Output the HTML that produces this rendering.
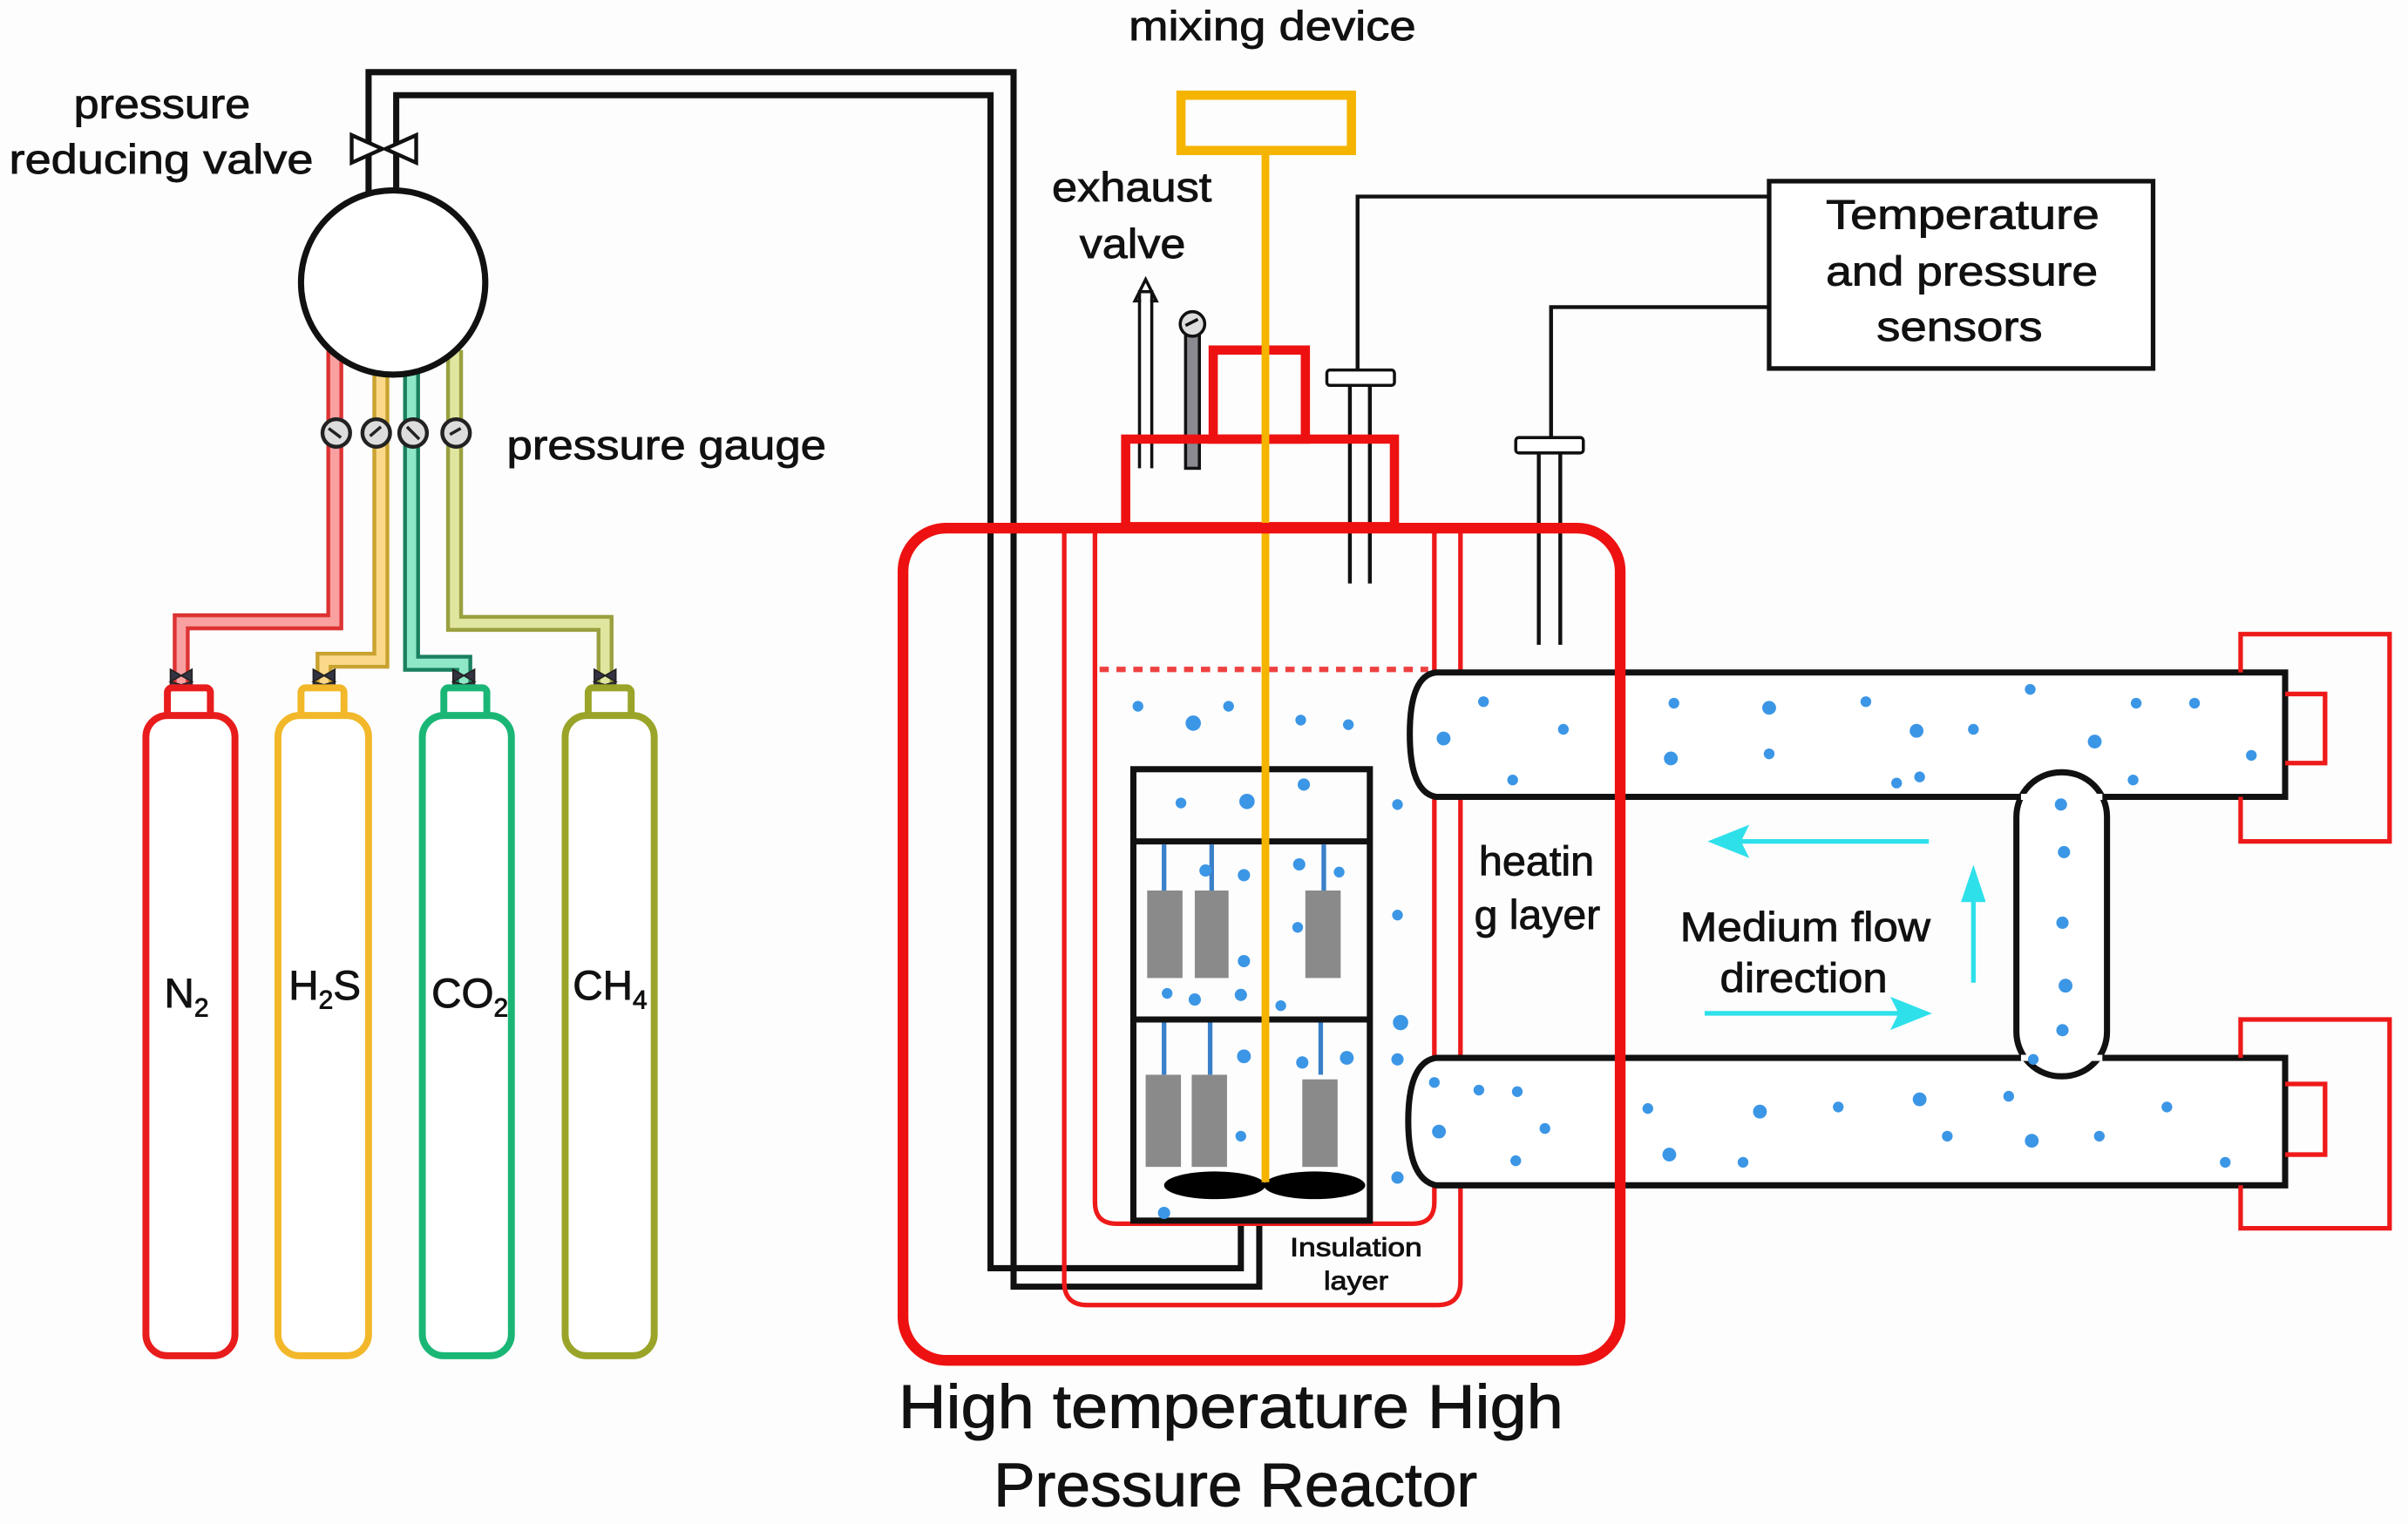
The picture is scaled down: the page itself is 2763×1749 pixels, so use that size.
<!DOCTYPE html>
<html><head><meta charset="utf-8"><style>
html,body{margin:0;padding:0;background:#fdfdfd;}
svg{display:block;}
text{font-family:"Liberation Sans",sans-serif;fill:#111;stroke:#111;stroke-width:0.5;}
</style></head><body>
<svg width="2763" height="1749" viewBox="0 0 1568 992.6" preserveAspectRatio="none" xmlns="http://www.w3.org/2000/svg">
<rect width="1568" height="993" fill="#fdfdfd"/>

<!-- colored gas pipes -->
<g fill="none" stroke-linejoin="miter">
<path d="M218 228 V405 H118 V445" stroke="#d33" stroke-width="11"/>
<path d="M218 228 V405 H118 V445" stroke="#f9a0a0" stroke-width="6"/>
<path d="M248 238 V430 H211 V445" stroke="#c9a230" stroke-width="11"/>
<path d="M248 238 V430 H211 V445" stroke="#fbd98a" stroke-width="6"/>
<path d="M268 238 V432 H302 V445" stroke="#1a8060" stroke-width="11"/>
<path d="M268 238 V432 H302 V445" stroke="#8ee8c8" stroke-width="6"/>
<path d="M296 228 V406 H394 V445" stroke="#9aa040" stroke-width="11"/>
<path d="M296 228 V406 H394 V445" stroke="#e0e6a0" stroke-width="6"/>
</g>
<g stroke="#222" stroke-width="2.5" fill="#ddd">
<circle cx="219" cy="282" r="9"/><circle cx="245" cy="282" r="9"/><circle cx="269" cy="282" r="9"/><circle cx="297" cy="282" r="9"/>
</g>
<g stroke="#222" stroke-width="2"><path d="M214 279 L222 285 M241 284 L248 278 M265 278 L273 286 M293 283 L300 279"/></g>

<g fill="#334" stroke="#222" stroke-width="1">
<path d="M111 436 L125 444 L111 448Z M125 436 L111 444 L125 448Z"/>
<path d="M204 436 L218 444 L204 448Z M218 436 L204 444 L218 448Z"/>
<path d="M295 436 L309 444 L295 448Z M309 436 L295 444 L309 448Z"/>
<path d="M387 436 L401 444 L387 448Z M401 436 L387 444 L401 448Z"/>
</g>
<g fill="#fff" stroke-width="4.5">
<rect x="109" y="448" width="28" height="20" rx="3" stroke="#e81c1c"/>
<rect x="95" y="466" width="58" height="417" rx="14" stroke="#e81c1c"/>
<rect x="196" y="448" width="28" height="20" rx="3" stroke="#f2b82a"/>
<rect x="181" y="466" width="59" height="417" rx="14" stroke="#f2b82a"/>
<rect x="289" y="448" width="28" height="20" rx="3" stroke="#1ab676"/>
<rect x="275" y="466" width="58" height="417" rx="14" stroke="#1ab676"/>
<rect x="383" y="448" width="28" height="20" rx="3" stroke="#9aa428"/>
<rect x="368" y="466" width="58" height="417" rx="14" stroke="#9aa428"/>
</g>
<g font-size="27">
<text x="107" y="656">N<tspan font-size="17" dy="6">2</tspan></text>
<text x="188" y="651">H<tspan font-size="17" dy="6">2</tspan><tspan dy="-6">S</tspan></text>
<text x="281" y="656">CO<tspan font-size="17" dy="6">2</tspan></text>
<text x="373" y="651">CH<tspan font-size="17" dy="6">4</tspan></text>
</g>

<g fill="none" stroke="#111" stroke-width="4">
<path d="M240 130 V47 H660 V838 H820 V795"/>
<path d="M258 130 V62 H645 V826 H808 V795"/>
</g>
<path d="M229 88 L249 97 L229 106Z M271 88 L251 97 L271 106Z" fill="#fff" stroke="#111" stroke-width="2.5"/>
<circle cx="256" cy="184" r="60" fill="#fff" stroke="#111" stroke-width="4"/>

<g font-size="27">
<text x="48" y="77" textLength="115" lengthAdjust="spacingAndGlyphs">pressure</text>
<text x="6" y="113" textLength="198" lengthAdjust="spacingAndGlyphs">reducing valve</text>
<text x="330" y="299" textLength="208" lengthAdjust="spacingAndGlyphs">pressure gauge</text>
<text x="735" y="26" textLength="187" lengthAdjust="spacingAndGlyphs">mixing device</text>
<text x="685" y="131" textLength="104" lengthAdjust="spacingAndGlyphs">exhaust</text>
<text x="703" y="168" textLength="69" lengthAdjust="spacingAndGlyphs">valve</text>
</g>
<rect x="769" y="62" width="111" height="36" fill="none" stroke="#f5b400" stroke-width="6"/>

<g stroke="#111" stroke-width="2" fill="#fff">
<path d="M742 305 V195 M750 305 V195"/>
<path d="M739 196 L746 182 L753 196 L750 196 L750 190 L742 190 L742 196Z"/>
<rect x="772" y="215" width="9" height="90" fill="#8a8a90"/>
<circle cx="776.5" cy="211" r="8" fill="#ddd"/>
<path d="M772 212 L780 208"/>
</g>

<rect x="1152" y="118" width="250" height="122" fill="#fff" stroke="#111" stroke-width="3"/>
<g font-size="27">
<text x="1189" y="149" textLength="178" lengthAdjust="spacingAndGlyphs">Temperature</text>
<text x="1189" y="186" textLength="177" lengthAdjust="spacingAndGlyphs">and pressure</text>
<text x="1222" y="222" textLength="108" lengthAdjust="spacingAndGlyphs">sensors</text>
</g>
<g fill="none" stroke="#111" stroke-width="2.5">
<path d="M1152 128 H884 V242"/>
<path d="M1152 200 H1010 V285"/>
<path d="M879 251 V380 M892 251 V380"/>
<path d="M1002 295 V420 M1016 295 V420"/>
</g>
<rect x="864" y="241" width="44" height="10" rx="2" fill="#fff" stroke="#111" stroke-width="2"/>
<rect x="987" y="285" width="44" height="10" rx="2" fill="#fff" stroke="#111" stroke-width="2"/>

<g fill="none" stroke="#ee1111" stroke-width="6">
<rect x="790" y="228" width="60" height="58"/>
<rect x="733" y="286" width="175" height="57"/>
</g>

<g fill="none" stroke="#ee1a1a" stroke-width="3">
<path d="M693 345 V835 Q693 850 708 850 H936 Q951 850 951 835 V345"/>
<path d="M713 345 V783 Q713 797 727 797 H920 Q934 797 934 783 V345"/>
</g>
<line x1="716" y1="436" x2="930" y2="436" stroke="#ee4040" stroke-width="3.5" stroke-dasharray="6,5"/>

<g fill="#fff" stroke="#111" stroke-width="4">
<path d="M1488 438 H935 Q918 440 918 478 Q918 516 935 519 H1488Z"/>
<path d="M1488 689 H935 Q917 692 917 730 Q917 768 935 772 H1488Z"/>
<rect x="1313" y="503" width="59" height="198" rx="29"/>
</g>
<rect x="1316" y="517" width="53" height="4" fill="#fff"/>
<rect x="1316" y="687" width="53" height="4" fill="#fff"/>
<g fill="none" stroke="#ee1a1a" stroke-width="3">
<path d="M1459 438 V413 H1556 V548 H1459 V519"/>
<path d="M1488 452 H1514 V497 H1488"/>
<path d="M1459 689 V664 H1556 V800 H1459 V772"/>
<path d="M1488 706 H1514 V752 H1488"/>
</g>

<g fill="none" stroke="#111" stroke-width="4">
<rect x="738" y="501" width="154" height="294"/>
<line x1="738" y1="548" x2="892" y2="548"/>
<line x1="738" y1="664" x2="892" y2="664"/>
</g>
<g fill="#8a8a8a">
<rect x="747" y="580" width="23" height="57"/><rect x="778" y="580" width="22" height="57"/><rect x="850" y="580" width="23" height="57"/>
<rect x="746" y="700" width="23" height="60"/><rect x="776" y="700" width="23" height="60"/><rect x="848" y="703" width="23" height="57"/>
</g>
<g stroke="#3a80c8" stroke-width="3">
<path d="M758 550 V580 M789 550 V580 M862 550 V580 M758 666 V700 M788 666 V700 M860 666 V700"/>
</g>
<ellipse cx="791" cy="772" rx="33" ry="9" fill="#000"/>
<ellipse cx="856" cy="772" rx="33" ry="9" fill="#000"/>
<line x1="824" y1="100" x2="824" y2="770" stroke="#f5b400" stroke-width="5"/>

<g fill="#3c96e6">
<circle cx="741" cy="460" r="3.5"/><circle cx="777" cy="471" r="5"/><circle cx="800" cy="460" r="3.5"/><circle cx="847" cy="469" r="3.5"/><circle cx="878" cy="472" r="3.5"/>
<circle cx="769" cy="523" r="3.5"/><circle cx="812" cy="522" r="5"/><circle cx="849" cy="511" r="4"/><circle cx="910" cy="524" r="3.5"/>
<circle cx="785" cy="567" r="4"/><circle cx="810" cy="570" r="4"/><circle cx="846" cy="563" r="4"/><circle cx="872" cy="568" r="3.5"/><circle cx="910" cy="596" r="3.5"/>
<circle cx="845" cy="604" r="3.5"/><circle cx="810" cy="626" r="4"/><circle cx="760" cy="647" r="3.5"/><circle cx="778" cy="651" r="4"/><circle cx="808" cy="648" r="4"/><circle cx="834" cy="655" r="3.5"/>
<circle cx="912" cy="666" r="5"/><circle cx="910" cy="690" r="4"/><circle cx="810" cy="688" r="4.5"/><circle cx="848" cy="692" r="4"/><circle cx="877" cy="689" r="4.5"/><circle cx="808" cy="740" r="3.5"/>
<circle cx="910" cy="767" r="4"/><circle cx="758" cy="790" r="4"/>
<circle cx="966" cy="457" r="3.5"/><circle cx="940" cy="481" r="4.5"/><circle cx="1018" cy="475" r="3.5"/><circle cx="985" cy="508" r="3.5"/>
<circle cx="1090" cy="458" r="3.5"/><circle cx="1152" cy="461" r="4.5"/><circle cx="1215" cy="457" r="3.5"/><circle cx="1088" cy="494" r="4.5"/><circle cx="1152" cy="491" r="3.5"/><circle cx="1248" cy="476" r="4.5"/><circle cx="1285" cy="475" r="3.5"/><circle cx="1322" cy="449" r="3.5"/><circle cx="1391" cy="458" r="3.5"/><circle cx="1429" cy="458" r="3.5"/><circle cx="1364" cy="483" r="4.5"/><circle cx="1466" cy="492" r="3.5"/><circle cx="1250" cy="506" r="3.5"/><circle cx="1235" cy="510" r="3.5"/><circle cx="1389" cy="508" r="3.5"/>
<circle cx="1342" cy="524" r="4"/><circle cx="1344" cy="555" r="4"/><circle cx="1343" cy="601" r="4"/><circle cx="1345" cy="642" r="4.5"/><circle cx="1343" cy="671" r="4"/><circle cx="1324" cy="690" r="3.5"/>
<circle cx="934" cy="705" r="3.5"/><circle cx="963" cy="710" r="3.5"/><circle cx="988" cy="711" r="3.5"/><circle cx="937" cy="737" r="4.5"/><circle cx="1006" cy="735" r="3.5"/><circle cx="987" cy="756" r="3.5"/>
<circle cx="1073" cy="722" r="3.5"/><circle cx="1146" cy="724" r="4.5"/><circle cx="1197" cy="721" r="3.5"/><circle cx="1250" cy="716" r="4.5"/><circle cx="1308" cy="714" r="3.5"/><circle cx="1087" cy="752" r="4.5"/><circle cx="1135" cy="757" r="3.5"/><circle cx="1268" cy="740" r="3.5"/><circle cx="1323" cy="743" r="4.5"/><circle cx="1367" cy="740" r="3.5"/><circle cx="1411" cy="721" r="3.5"/><circle cx="1449" cy="757" r="3.5"/>
</g>

<rect x="588" y="344" width="467" height="542" rx="28" fill="none" stroke="#ee1111" stroke-width="7"/>

<g stroke="#2ee0ea" stroke-width="3" fill="#2ee0ea">
<line x1="1256" y1="548" x2="1130" y2="548"/><path d="M1116 548 L1136 540 L1132 548 L1136 556Z"/>
<line x1="1285" y1="640" x2="1285" y2="582"/><path d="M1285 568 L1279 586 L1291 586Z"/>
<line x1="1110" y1="660" x2="1240" y2="660"/><path d="M1254 660 L1234 652 L1238 660 L1234 668Z"/>
</g>
<g font-size="27">
<text x="1094" y="613" textLength="163" lengthAdjust="spacingAndGlyphs">Medium flow</text>
<text x="1120" y="646" textLength="109" lengthAdjust="spacingAndGlyphs">direction</text>
<text x="963" y="570" textLength="75" lengthAdjust="spacingAndGlyphs">heatin</text>
<text x="960" y="605" textLength="82" lengthAdjust="spacingAndGlyphs">g layer</text>
</g>
<g font-size="17">
<text x="840" y="818" textLength="86" lengthAdjust="spacingAndGlyphs">Insulation</text>
<text x="862" y="840" textLength="42" lengthAdjust="spacingAndGlyphs">layer</text>
</g>
<g font-size="40" style="stroke-width:0.8">
<text x="585" y="930" textLength="433" lengthAdjust="spacingAndGlyphs">High temperature High</text>
<text x="647" y="981" textLength="315" lengthAdjust="spacingAndGlyphs">Pressure Reactor</text>
</g>
</svg>
</body></html>
